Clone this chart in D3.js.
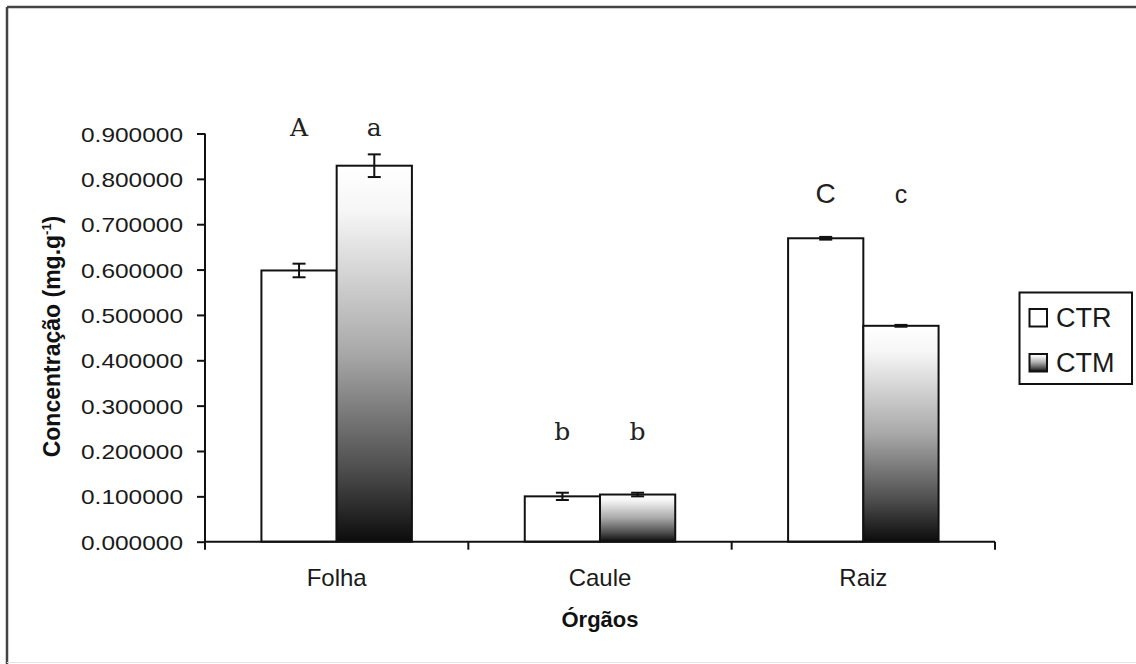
<!DOCTYPE html>
<html>
<head>
<meta charset="utf-8">
<script src="https://cdn.jsdelivr.net/npm/d3@7"></script>
<style>
  html, body { margin: 0; padding: 0; background: #fff; }
  svg { display: block; }
  .sans { font-family: "Liberation Sans", Arial, Helvetica, sans-serif; }
</style>
</head>
<body>
<svg id="chart" width="1136" height="664"></svg>
<script>
// ---- data ----
const categories = ["Folha", "Caule", "Raiz"];
const seriesNames = ["CTR", "CTM"];
const ctrValues = [0.598, 0.100, 0.669];
const ctmValues = [0.829, 0.104, 0.476];
const ctrErrors = [0.015, 0.008, 0.003];
const ctmErrors = [0.025, 0.004, 0.002];
const ctrLetters = ["A", "b", "C"];
const ctmLetters = ["a", "b", "c"];
const letterLevels = [0.895, 0.224, 0.746];
const yTicks = [0, 0.1, 0.2, 0.3, 0.4, 0.5, 0.6, 0.7, 0.8, 0.9];
const yTitle = "Concentração (mg.g";
const yTitleSup = "-1";
const xTitle = "Órgãos";

// ---- layout ----
const svg = d3.select("#chart");
const W = 1136, H = 664;
const plotLeft = 205, plotRight = 995, plotTop = 133.5, plotBottom = 541.7;

svg.append("rect").attr("x", 0).attr("y", 0).attr("width", W).attr("height", H).attr("fill", "#fff");
svg.append("line").attr("x1", 7).attr("y1", 7).attr("x2", W).attr("y2", 7).attr("stroke", "#444").attr("stroke-width", 2.5);
svg.append("line").attr("x1", 7).attr("y1", 7).attr("x2", 7).attr("y2", H).attr("stroke", "#444").attr("stroke-width", 2.5);
svg.append("line").attr("x1", 7).attr("y1", 662.5).attr("x2", W).attr("y2", 662.5).attr("stroke", "#e4e4e4").attr("stroke-width", 1);

const defs = svg.append("defs");
const grad = defs.append("linearGradient").attr("id", "ctmGrad").attr("x1", 0).attr("y1", 0).attr("x2", 0).attr("y2", 1);
[[0, "#ffffff"], [0.12, "#f6f6f6"], [0.5, "#a8a8a8"], [0.8, "#505050"], [1, "#0c0c0c"]].forEach(([o, c]) =>
  grad.append("stop").attr("offset", o).attr("stop-color", c));

const x = d3.scaleBand().domain(categories).range([plotLeft, plotRight]).padding(0);
const xs = d3.scaleBand().domain(seriesNames).range([0, x.bandwidth()]).paddingInner(0).paddingOuter(0.75);
const y = d3.scaleLinear().domain([0, 0.9]).range([plotBottom, plotTop]);

const fills = { CTR: "#ffffff", CTM: "url(#ctmGrad)" };
const seriesData = [
  { name: "CTR", values: ctrValues, errs: ctrErrors, letters: ctrLetters },
  { name: "CTM", values: ctmValues, errs: ctmErrors, letters: ctmLetters }
];

const rows = [];
seriesData.forEach(s => categories.forEach((c, i) => rows.push({ s: s.name, c, v: s.values[i], e: s.errs[i], l: s.letters[i], lvl: letterLevels[i] })));

// bars
svg.append("g").selectAll("rect").data(rows).join("rect")
  .attr("x", d => x(d.c) + xs(d.s))
  .attr("y", d => y(d.v))
  .attr("width", xs.bandwidth())
  .attr("height", d => y(0) - y(d.v))
  .attr("fill", d => fills[d.s])
  .attr("stroke", "#111")
  .attr("stroke-width", 2);

// error bars
const eg = svg.append("g").attr("stroke", "#111").attr("stroke-width", 2);
rows.forEach(d => {
  const cx = x(d.c) + xs(d.s) + xs.bandwidth() / 2;
  const y1 = y(d.v + d.e), y2 = y(d.v - d.e);
  eg.append("line").attr("x1", cx).attr("x2", cx).attr("y1", y1).attr("y2", y2);
  eg.append("line").attr("x1", cx - 6.5).attr("x2", cx + 6.5).attr("y1", y1).attr("y2", y1);
  eg.append("line").attr("x1", cx - 6.5).attr("x2", cx + 6.5).attr("y1", y2).attr("y2", y2);
});

// significance letters
const isSans = l => l === "C" || l === "c";
svg.append("g").selectAll("text").data(rows).join("text")
  .style("font-family", d => isSans(d.l) ? "'Liberation Sans', Arial, sans-serif" : "'DejaVu Serif', 'Liberation Serif', serif")
  .attr("x", d => x(d.c) + xs(d.s) + xs.bandwidth() / 2)
  .attr("y", d => y(d.lvl))
  .attr("text-anchor", "middle")
  .attr("font-size", d => d.l === "C" ? 28 : d.l === "c" ? 25 : 25)
  .attr("fill", "#222")
  .text(d => d.l);

// y axis
const yAxis = svg.append("g").attr("transform", `translate(${plotLeft},0)`)
  .call(d3.axisLeft(y).tickValues(yTicks).tickFormat(d3.format(".6f")).tickSize(8).tickPadding(14));
yAxis.select(".domain").attr("stroke", "#111").attr("stroke-width", 2).attr("d", `M0,${plotTop}V${plotBottom}`);
yAxis.selectAll(".tick line").attr("stroke", "#111").attr("stroke-width", 2);
yAxis.selectAll(".tick text")
  .attr("class", "sans")
  .attr("font-size", 21)
  .attr("fill", "#1a1a1a")
  .attr("dy", "0.36em")
  .attr("textLength", 102)
  .attr("lengthAdjust", "spacingAndGlyphs");

// x axis
const xg = svg.append("g");
xg.append("line").attr("x1", plotLeft).attr("x2", plotRight).attr("y1", plotBottom).attr("y2", plotBottom)
  .attr("stroke", "#111").attr("stroke-width", 2);
const boundaries = categories.map(c => x(c)).concat([x.range()[1]]);
xg.selectAll("line.tk").data(boundaries).join("line").attr("class", "tk")
  .attr("x1", d => d).attr("x2", d => d).attr("y1", plotBottom).attr("y2", plotBottom + 8)
  .attr("stroke", "#111").attr("stroke-width", 2);
xg.selectAll("text").data(categories).join("text")
  .attr("class", "sans")
  .attr("x", d => x(d) + x.bandwidth() / 2)
  .attr("y", 585.7)
  .attr("text-anchor", "middle")
  .attr("font-size", 24)
  .attr("fill", "#1a1a1a")
  .text(d => d);

// axis titles
svg.append("text")
  .attr("class", "sans")
  .attr("x", (plotLeft + plotRight) / 2)
  .attr("y", 627)
  .attr("text-anchor", "middle")
  .attr("font-weight", "bold")
  .attr("font-size", 22)
  .attr("fill", "#111")
  .text(xTitle);

const yt = svg.append("text")
  .attr("class", "sans")
  .attr("transform", `translate(60,336.5) rotate(-90)`)
  .attr("text-anchor", "middle")
  .attr("font-weight", "bold")
  .attr("font-size", 23)
  .attr("fill", "#111");
yt.append("tspan").text(yTitle);
yt.append("tspan").attr("font-size", 13).attr("dy", -9).text(yTitleSup);
yt.append("tspan").attr("dy", 9).text(")");

// legend
const lg = svg.append("g");
lg.append("rect").attr("x", 1019.5).attr("y", 292.5).attr("width", 112.5).attr("height", 91.5)
  .attr("fill", "#fff").attr("stroke", "#111").attr("stroke-width", 2);
seriesNames.forEach((n, i) => {
  const yy = 309 + i * 45;
  lg.append("rect").attr("x", 1029.5).attr("y", yy).attr("width", 17.5).attr("height", 17.5)
    .attr("fill", fills[n]).attr("stroke", "#111").attr("stroke-width", 2);
  lg.append("text").attr("class", "sans").attr("x", 1056).attr("y", yy + 18)
    .attr("font-size", 27)
    .attr("fill", "#1a1a1a")
    .text(n);
});
</script>
</body>
</html>
